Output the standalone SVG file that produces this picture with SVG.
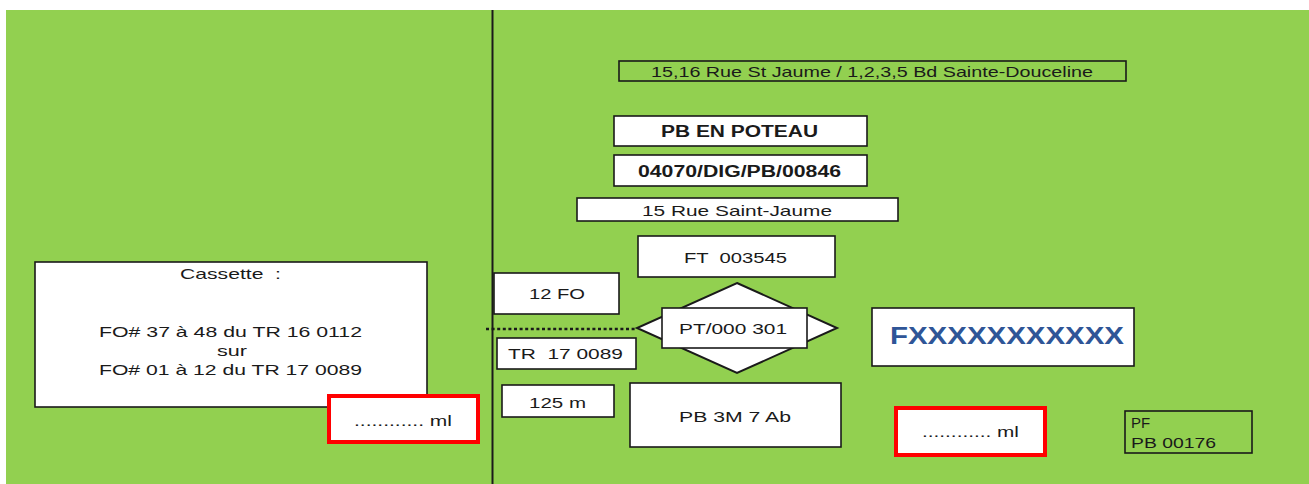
<svg xmlns="http://www.w3.org/2000/svg" width="1309" height="484" viewBox="0 0 1309 484">
<style>
.t{font-family:"Liberation Sans",Arial,sans-serif;font-size:15px;fill:#1a1a1a;}
.b{font-weight:bold;font-size:16px;}
.box{fill:#fff;stroke:#1a1a1a;stroke-width:1.6;}
.gbox{fill:none;stroke:#1a1a1a;stroke-width:1.6;}
.red{fill:#fff;stroke:#ff0000;stroke-width:4;}
</style>
<rect x="6" y="10" width="1303" height="474" fill="#92d050"/>
<g id="connectors">
<line x1="492.5" y1="10" x2="492.5" y2="484" stroke="#1a1a1a" stroke-width="2"/>
<line x1="486" y1="329" x2="637" y2="329" stroke="#1a1a1a" stroke-width="2.5" stroke-dasharray="3 2.6"/>
</g>
<g id="address">
<rect class="gbox" x="619" y="61" width="507" height="20"/>
<text class="t" x="651" y="77" textLength="442" lengthAdjust="spacingAndGlyphs">15,16 Rue St Jaume / 1,2,3,5 Bd Sainte-Douceline</text>
</g>
<g id="pb-poteau">
<rect class="box" x="614" y="116" width="253" height="30"/>
<text class="t b" x="661" y="137" textLength="157" lengthAdjust="spacingAndGlyphs">PB EN POTEAU</text>
</g>
<g id="pb-ref">
<rect class="box" x="614" y="155" width="253" height="31"/>
<text class="t b" x="638" y="177" textLength="203" lengthAdjust="spacingAndGlyphs">04070/DIG/PB/00846</text>
</g>
<g id="street">
<rect class="box" x="577" y="198" width="321" height="23"/>
<text class="t" x="642" y="216" textLength="190" lengthAdjust="spacingAndGlyphs">15 Rue Saint-Jaume</text>
</g>
<g id="ft">
<rect class="box" x="638" y="236" width="197" height="41"/>
<text class="t" x="684" y="263" textLength="103" lengthAdjust="spacingAndGlyphs" xml:space="preserve">FT  003545</text>
</g>
<g id="fo12">
<rect class="box" x="494" y="273" width="125" height="41"/>
<text class="t" x="529" y="299" textLength="56" lengthAdjust="spacingAndGlyphs">12 FO</text>
</g>
<g id="pt">
<polygon points="737,283 837,328 737,373 637,328" fill="#fff" stroke="#1a1a1a" stroke-width="2"/>
<rect class="box" x="662" y="308" width="145" height="40"/>
<text class="t" x="679" y="334" textLength="108" lengthAdjust="spacingAndGlyphs">PT/000 301</text>
</g>
<g id="tr">
<rect class="box" x="497" y="338" width="139" height="31"/>
<text class="t" x="508" y="359" textLength="115" lengthAdjust="spacingAndGlyphs" xml:space="preserve">TR  17 0089</text>
</g>
<g id="len125">
<rect class="box" x="502" y="385" width="112" height="32"/>
<text class="t" x="529" y="408" textLength="57" lengthAdjust="spacingAndGlyphs">125 m</text>
</g>
<g id="pb3m">
<rect class="box" x="630" y="383" width="211" height="64"/>
<text class="t" x="679" y="422" textLength="112" lengthAdjust="spacingAndGlyphs">PB 3M 7 Ab</text>
</g>
<g id="fx">
<rect class="box" x="872" y="308" width="262" height="58"/>
<text class="t" x="890" y="344" style="font-weight:bold;font-size:24px;fill:#2f5597" textLength="234" lengthAdjust="spacingAndGlyphs">FXXXXXXXXXXX</text>
</g>
<g id="cassette">
<rect class="box" x="35" y="262" width="392" height="145"/>
<text class="t" x="180" y="279" textLength="101" lengthAdjust="spacingAndGlyphs" xml:space="preserve">Cassette  :</text>
<text class="t" x="99" y="337" textLength="263" lengthAdjust="spacingAndGlyphs">FO# 37 à 48 du TR 16 0112</text>
<text class="t" x="217" y="356" textLength="30" lengthAdjust="spacingAndGlyphs">sur</text>
<text class="t" x="99" y="375" textLength="263" lengthAdjust="spacingAndGlyphs">FO# 01 à 12 du TR 17 0089</text>
</g>
<g id="ml-left">
<rect class="red" x="329" y="396" width="149" height="46"/>
<text class="t" x="354" y="426" textLength="98" lengthAdjust="spacingAndGlyphs">............ ml</text>
</g>
<g id="ml-right">
<rect class="red" x="896" y="408" width="149" height="47"/>
<text class="t" x="922" y="437" textLength="97" lengthAdjust="spacingAndGlyphs">............ ml</text>
</g>
<g id="pf">
<rect class="gbox" x="1125" y="411" width="127" height="42"/>
<text class="t" x="1131" y="428">PF</text>
<text class="t" x="1131" y="448" textLength="85" lengthAdjust="spacingAndGlyphs">PB 00176</text>
</g>
</svg>
